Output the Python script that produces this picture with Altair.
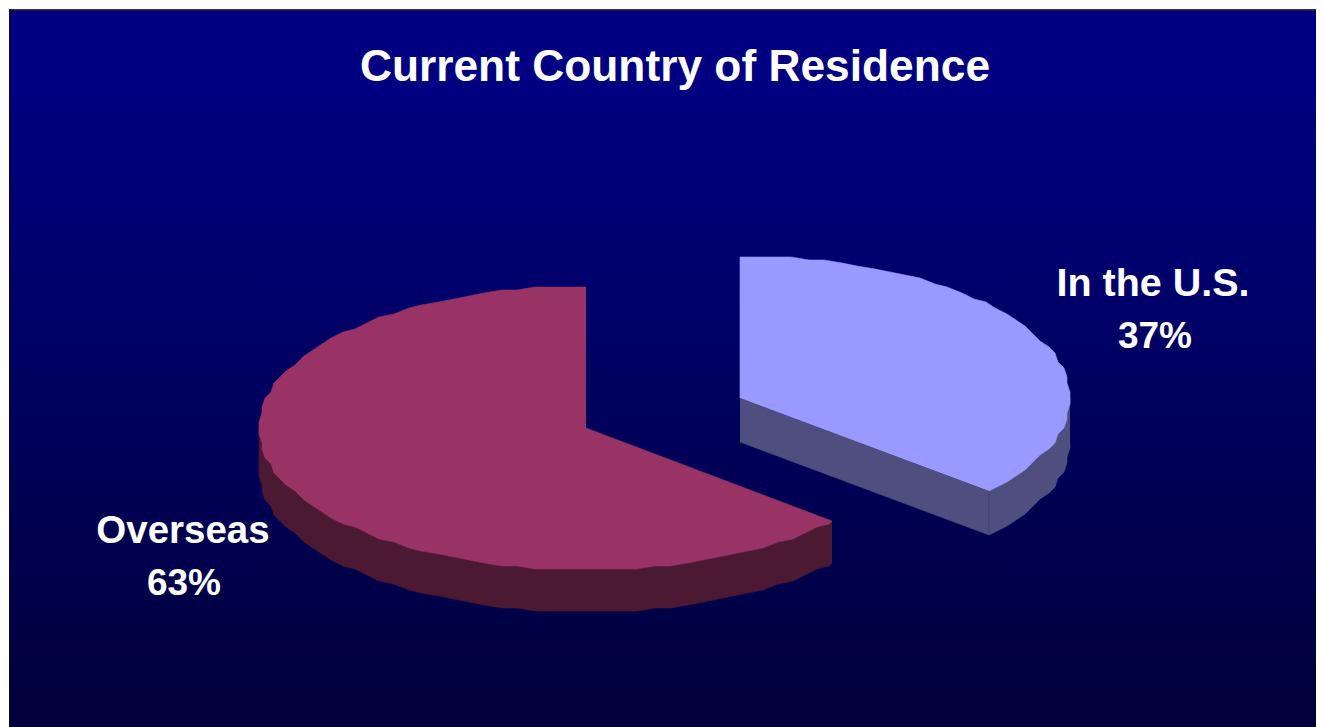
import math
import altair as alt
import pandas as pd

# ---- values ----
categories = ["In the U.S.", "Overseas"]
shares = [36.5, 63.5]
percent_labels = ["37%", "63%"]
title_text = "Current Country of Residence"

# ---- styling / layout ----
TOP = {"In the U.S.": "#9999FF", "Overseas": "#993366"}
SIDE = {"In the U.S.": "#4F4F7F", "Overseas": "#4C1933"}
CENTER = {"In the U.S.": (740, 398), "Overseas": (586, 428)}
RX = {"In the U.S.": 330, "Overseas": 327}
DEPTH = {"In the U.S.": 44, "Overseas": 42}
RY = 142
STEP = 3
GRID = 3
W, H = 1308, 719

X = alt.X("x:Q", axis=None, scale=alt.Scale(domain=[8, 8 + W], range=[0, W]))
Y = alt.Y("y:Q", axis=None, scale=alt.Scale(domain=[8, 8 + H], range=[0, H]))


def rim(cat, a0, a1):
    cx, cy = CENTER[cat]
    inner = [STEP * k for k in range(int(a0 // STEP) + 1, int(a1 // STEP) + 1) if a0 < STEP * k < a1]
    pts = []
    for deg in [a0] + inner + [a1]:
        a = math.radians(deg)
        dx = RX[cat] * math.sin(a)
        dy = -RY * math.cos(a)
        pts.append((cx + round(dx / GRID) * GRID, cy + round(dy / GRID) * GRID))
    return pts


def poly(points, fill, stroke=None):
    df = pd.DataFrame([{"i": i, "x": p[0], "y": p[1]} for i, p in enumerate(points)])
    return (
        alt.Chart(df)
        .mark_line(fill=fill, stroke=stroke or fill, strokeWidth=0.6, interpolate="linear")
        .encode(x=X, y=Y, order="i:Q")
    )


angle_us = 360 * shares[0] / sum(shares)
us, ov = categories


def drop(pts, cat):
    return [(x, y + DEPTH[cat]) for x, y in pts]


background = alt.Chart(pd.DataFrame({"a": [0]})).mark_rect(
    color=alt.Gradient(
        gradient="linear", x1=0, x2=0, y1=0, y2=1,
        stops=[
            alt.GradientStop(color="#000080", offset=0),
            alt.GradientStop(color="#000080", offset=0.12),
            alt.GradientStop(color="#00003A", offset=1),
        ],
    )
).encode(x=alt.value(1), x2=alt.value(W), y=alt.value(1), y2=alt.value(H))
edge_top = alt.Chart(pd.DataFrame({"a": [0]})).mark_rect(color="#333333").encode(
    x=alt.value(1), x2=alt.value(W), y=alt.value(1), y2=alt.value(2.5)
)
edge_left = alt.Chart(pd.DataFrame({"a": [0]})).mark_rect(color="#0A0A20").encode(
    x=alt.value(1), x2=alt.value(2.5), y=alt.value(1), y2=alt.value(H)
)

# Overseas
ov_arc_side = rim(ov, angle_us, 270)
ov_side = poly(ov_arc_side + drop(ov_arc_side, ov)[::-1], SIDE[ov])
ov_top = poly([CENTER[ov]] + rim(ov, angle_us, 360), TOP[ov])

# In the U.S.
us_arc_side = rim(us, 90, angle_us)
us_end = us_arc_side[-1]
us_side = poly(us_arc_side + drop(us_arc_side, us)[::-1], SIDE[us])
us_wall = poly([CENTER[us], us_end, drop([us_end], us)[0], drop([CENTER[us]], us)[0]], SIDE[us])
us_seam = poly([us_end, drop([us_end], us)[0]], "#3A3A70")
us_top = poly([CENTER[us]] + rim(us, 0, angle_us), TOP[us])

text_df = pd.DataFrame(
    [
        {"t": title_text, "x": 675, "y": 81, "s": 44.3},
        {"t": categories[0], "x": 1153, "y": 296, "s": 39.5},
        {"t": percent_labels[0], "x": 1155, "y": 348, "s": 37},
        {"t": categories[1], "x": 183, "y": 543, "s": 38.5},
        {"t": percent_labels[1], "x": 184, "y": 595, "s": 37},
    ]
)
texts = (
    alt.Chart(text_df)
    .mark_text(font="Liberation Sans", fontWeight="bold", color="white", align="center", baseline="alphabetic")
    .encode(x=X, y=Y, text="t:N", size=alt.Size("s:Q", scale=None, legend=None))
)

chart = (
    alt.layer(background, edge_top, edge_left, ov_side, ov_top, us_side, us_wall, us_seam, us_top, texts)
    .properties(width=W, height=H, padding=0, autosize=alt.AutoSizeParams(type="none"), background="white")
    .configure_view(stroke=None)
)
chart.save("out.html", embed_options={"renderer": "svg", "actions": False})
